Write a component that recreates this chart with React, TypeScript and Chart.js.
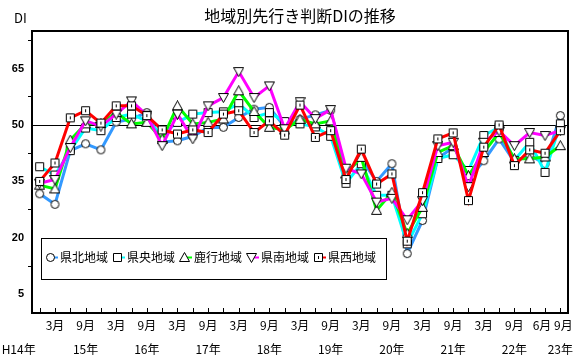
import React, { useEffect, useRef } from "react";
import { Chart, registerables } from "chart.js";

Chart.register(...registerables);

const chartTitle = "地域別先行き判断DIの推移";
const yAxisTitle = "DI";
const firstYearLabel = "H14年";

const monthLabels = [
  "", "3月", "", "9月", "", "3月", "", "9月", "", "3月", "", "9月",
  "", "3月", "", "9月", "", "3月", "", "9月", "", "3月", "", "9月",
  "", "3月", "", "9月", "", "3月", "", "9月", "", "6月\u2002", "\u20029月",
];
const yearLabels = [
  "", "", "", "15年", "", "", "", "16年", "", "", "", "17年",
  "", "", "", "18年", "", "", "", "19年", "", "", "", "20年",
  "", "", "", "21年", "", "", "", "22年", "", "", "23年",
];

const yTickValues = [5, 12.5, 20, 27.5, 35, 42.5, 50, 57.5, 65, 72.5];
const yLabelValues = [5, 20, 35, 50, 65];

const kenpoku = [31.7, 28.9, 43.2, 45, 43.4, 50.8, 51.6, 53.3, 45.5, 45.8, 47, 49.3, 49.4, 52, 54.2, 54.7, 49.5, 51.5, 52.7, 53.9, 37.5, 41, 35, 39.7, 15.8, 24.6, 41.1, 44.1, 35.5, 40.5, 46.3, 40.2, 42, 39.7, 52.5];
const kenou = [38.9, 36.7, 43.2, 49.2, 48.5, 52, 52.9, 51, 47.5, 50.7, 52.9, 53.3, 53.5, 55.7, 52, 53.3, 50.9, 50.3, 49.5, 47, 34.5, 39.7, 31.3, 31.3, 18.4, 26.4, 41.1, 42.1, 37.9, 47.2, 49.4, 40.6, 45.4, 37.4, 50.3];
const rokko = [34, 33, 46, 50.3, 50.4, 53.3, 50.3, 50.7, 46.2, 55.1, 50.3, 50.7, 51.6, 59.1, 53.6, 49.4, 48.7, 51.5, 50.3, 51.1, 37, 41.4, 27.3, 32.1, 21.1, 28.1, 42.7, 44.5, 36.5, 42.7, 48, 41, 41, 41.5, 44.5];
const kennan = [34.5, 35.5, 44, 51.1, 49.7, 52.9, 56.4, 52.6, 44.5, 52.9, 46.3, 55.1, 57.3, 64.2, 57.3, 60.4, 49, 56.2, 51.7, 54.1, 38.5, 37, 29.5, 30.5, 24.8, 29.9, 44.5, 45.4, 33.6, 45.4, 48.4, 44.5, 48, 47.2, 48.5];
const kensei = [35, 39.9, 51.9, 53.8, 50.5, 55.1, 55.1, 52.5, 48.7, 47.6, 48.7, 48, 52.9, 53.8, 48, 51.1, 47.3, 55.3, 46.7, 48.5, 35.5, 43.6, 34.3, 37, 19.1, 32, 46.3, 47.9, 29.9, 44.1, 50, 39.2, 43.4, 42.5, 48.5];

const seriesNames = ["県北地域", "県央地域", "鹿行地域", "県南地域", "県西地域"];
const seriesValues = [kenpoku, kenou, rokko, kennan, kensei];
const seriesColors = ["#3399ff", "#00ffff", "#00ff00", "#ff00ff", "#ff0000"];
const seriesMarkers = ["circle", "square", "triangle", "invTriangle", "squareDot"];

const FONT = '"Noto Sans CJK JP", "Noto Sans", sans-serif';

function makeMarker(kind: string): HTMLCanvasElement {
  const c = document.createElement("canvas");
  c.width = 11;
  c.height = 11;
  const g = c.getContext("2d")!;
  g.fillStyle = "#ffffff";
  g.strokeStyle = "#000000";
  g.lineWidth = 1;
  g.beginPath();
  if (kind === "circle") {
    g.arc(5.5, 5.5, 4, 0, Math.PI * 2);
  } else if (kind === "square" || kind === "squareDot") {
    g.rect(1.5, 1.5, 8, 8);
  } else if (kind === "triangle") {
    g.moveTo(5.5, 0.5);
    g.lineTo(10.5, 9.5);
    g.lineTo(0.5, 9.5);
    g.closePath();
  } else {
    g.moveTo(0.5, 1.5);
    g.lineTo(10.5, 1.5);
    g.lineTo(5.5, 10.5);
    g.closePath();
  }
  g.fill();
  g.stroke();
  if (kind === "squareDot") {
    g.fillStyle = "#000000";
    g.fillRect(5, 4, 1, 3);
  }
  return c;
}

const framePlugin = {
  id: "frame",
  beforeDatasetsDraw(chart: any) {
    const { ctx, chartArea, scales } = chart;
    ctx.save();
    ctx.strokeStyle = "#000";
    ctx.lineWidth = 2;
    ctx.strokeRect(chartArea.left, chartArea.top, chartArea.right - chartArea.left, chartArea.bottom - chartArea.top);
    ctx.lineWidth = 1;
    ctx.beginPath();
    const xs = scales.x;
    for (let i = 0; i < monthLabels.length; i++) {
      const x = Math.round(xs.getPixelForValue(i)) + 0.5;
      ctx.moveTo(x, chartArea.bottom);
      ctx.lineTo(x, chartArea.bottom - 5);
    }
    ctx.stroke();
    ctx.restore();
  },
};

const textPlugin = {
  id: "texts",
  afterDraw(chart: any) {
    const { ctx, chartArea, scales } = chart;
    ctx.save();
    ctx.fillStyle = "#000";
    ctx.textBaseline = "middle";
    ctx.textAlign = "center";
    ctx.font = `16px ${FONT}`;
    ctx.fillText(chartTitle, (chartArea.left + chartArea.right) / 2, 16);
    ctx.textAlign = "left";
    ctx.font = `13px ${FONT}`;
    ctx.fillText(yAxisTitle, 14, 18);
    ctx.textAlign = "center";
    ctx.font = `12px ${FONT}`;
    const xs = scales.x;
    ctx.fillText(firstYearLabel, xs.getPixelForValue(0) - 21, xs.top + 1 + 12 * 1.96 * 1.5);
    ctx.restore();
  },
};

const legendPlugin = {
  id: "boxLegend",
  afterDraw(chart: any) {
    const { ctx, chartArea } = chart;
    const left = chartArea.left + 9;
    const top = chartArea.bottom - 75;
    const height = 41;
    const cy = top + height / 2 - 1;
    ctx.save();
    ctx.font = `12px ${FONT}`;
    const ds = chart.data.datasets;
    const pos: number[] = [];
    let cur = left + 5;
    ds.forEach((d: any) => {
      pos.push(cur);
      cur += 14 + ctx.measureText(d.label).width + 5;
    });
    const right = cur - 5 + 10;
    ctx.fillStyle = "#fff";
    ctx.fillRect(left, top, right - left, height);
    ctx.strokeStyle = "#000";
    ctx.lineWidth = 1;
    ctx.strokeRect(left + 0.5, top + 0.5, right - left, height);
    ds.forEach((d: any, i: number) => {
      const x0 = pos[i];
      ctx.strokeStyle = d.borderColor;
      ctx.lineWidth = 2;
      ctx.beginPath();
      ctx.moveTo(x0 + 4, cy);
      ctx.lineTo(x0 + 12, cy);
      ctx.stroke();
      const img = d.pointStyle as HTMLCanvasElement;
      ctx.drawImage(img, Math.round(x0 + 4 - img.width / 2), Math.round(cy - img.height / 2));
      ctx.fillStyle = "#000";
      ctx.textBaseline = "middle";
      ctx.textAlign = "left";
      ctx.fillText(d.label, x0 + 14, cy);
    });
    ctx.restore();
  },
};

export default function App() {
  const ref = useRef<HTMLCanvasElement>(null);
  useEffect(() => {
    document.body.style.margin = "0";
    const canvas = ref.current!;
    const chart = new Chart(canvas, {
      type: "line",
      data: {
        labels: monthLabels.map((m, i) => (yearLabels[i] ? [m, yearLabels[i]] : m)) as any,
        datasets: seriesNames.map((name, i) => ({
          label: name,
          data: seriesValues[i],
          borderColor: seriesColors[i],
          backgroundColor: seriesColors[i],
          borderWidth: 3,
          pointStyle: makeMarker(seriesMarkers[i]) as any,
          pointRadius: 5,
          tension: 0,
          order: 5 - i,
        })),
      },
      options: {
        responsive: false,
        animation: false,
        layout: { padding: { top: 31, right: 13, left: 0, bottom: 0 } },
        plugins: {
          legend: { display: false },
          tooltip: { enabled: false },
          title: { display: false },
        },
        scales: {
          x: {
            type: "category",
            offset: true,
            grid: { display: false, drawTicks: false },
            border: { display: false },
            ticks: {
              autoSkip: false,
              maxRotation: 0,
              minRotation: 0,
              padding: 1,
              color: "#000",
              font: { family: FONT, size: 12, lineHeight: 1.96 },
            },
            afterFit: (s: any) => {
              s.height = 50;
            },
          },
          y: {
            min: 0,
            max: 75,
            afterBuildTicks: (s: any) => {
              s.ticks = yTickValues.map((v) => ({ value: v }));
            },
            afterFit: (s: any) => {
              s.width = 32;
            },
            border: { display: false },
            grid: {
              color: (c: any) => (c.tick && c.tick.value === 50 ? "#000" : "rgba(0,0,0,0)"),
              lineWidth: 1,
              drawTicks: true,
              tickLength: 4,
              tickWidth: 1,
              tickColor: (c: any) => (c.tick && c.tick.value % 1 !== 0 ? "#000" : "rgba(0,0,0,0)"),
            },
            ticks: {
              padding: 4,
              color: "#000",
              font: { family: '"Liberation Sans", Arial, sans-serif', size: 11, weight: "bold" },
              callback: (v: any) => (yLabelValues.includes(Number(v)) ? String(v) : ""),
            },
          },
        },
      },
      plugins: [framePlugin, legendPlugin, textPlugin],
    });
    return () => chart.destroy();
  }, []);
  return <canvas ref={ref} width={581} height={363} style={{ display: "block" }} />;
}
